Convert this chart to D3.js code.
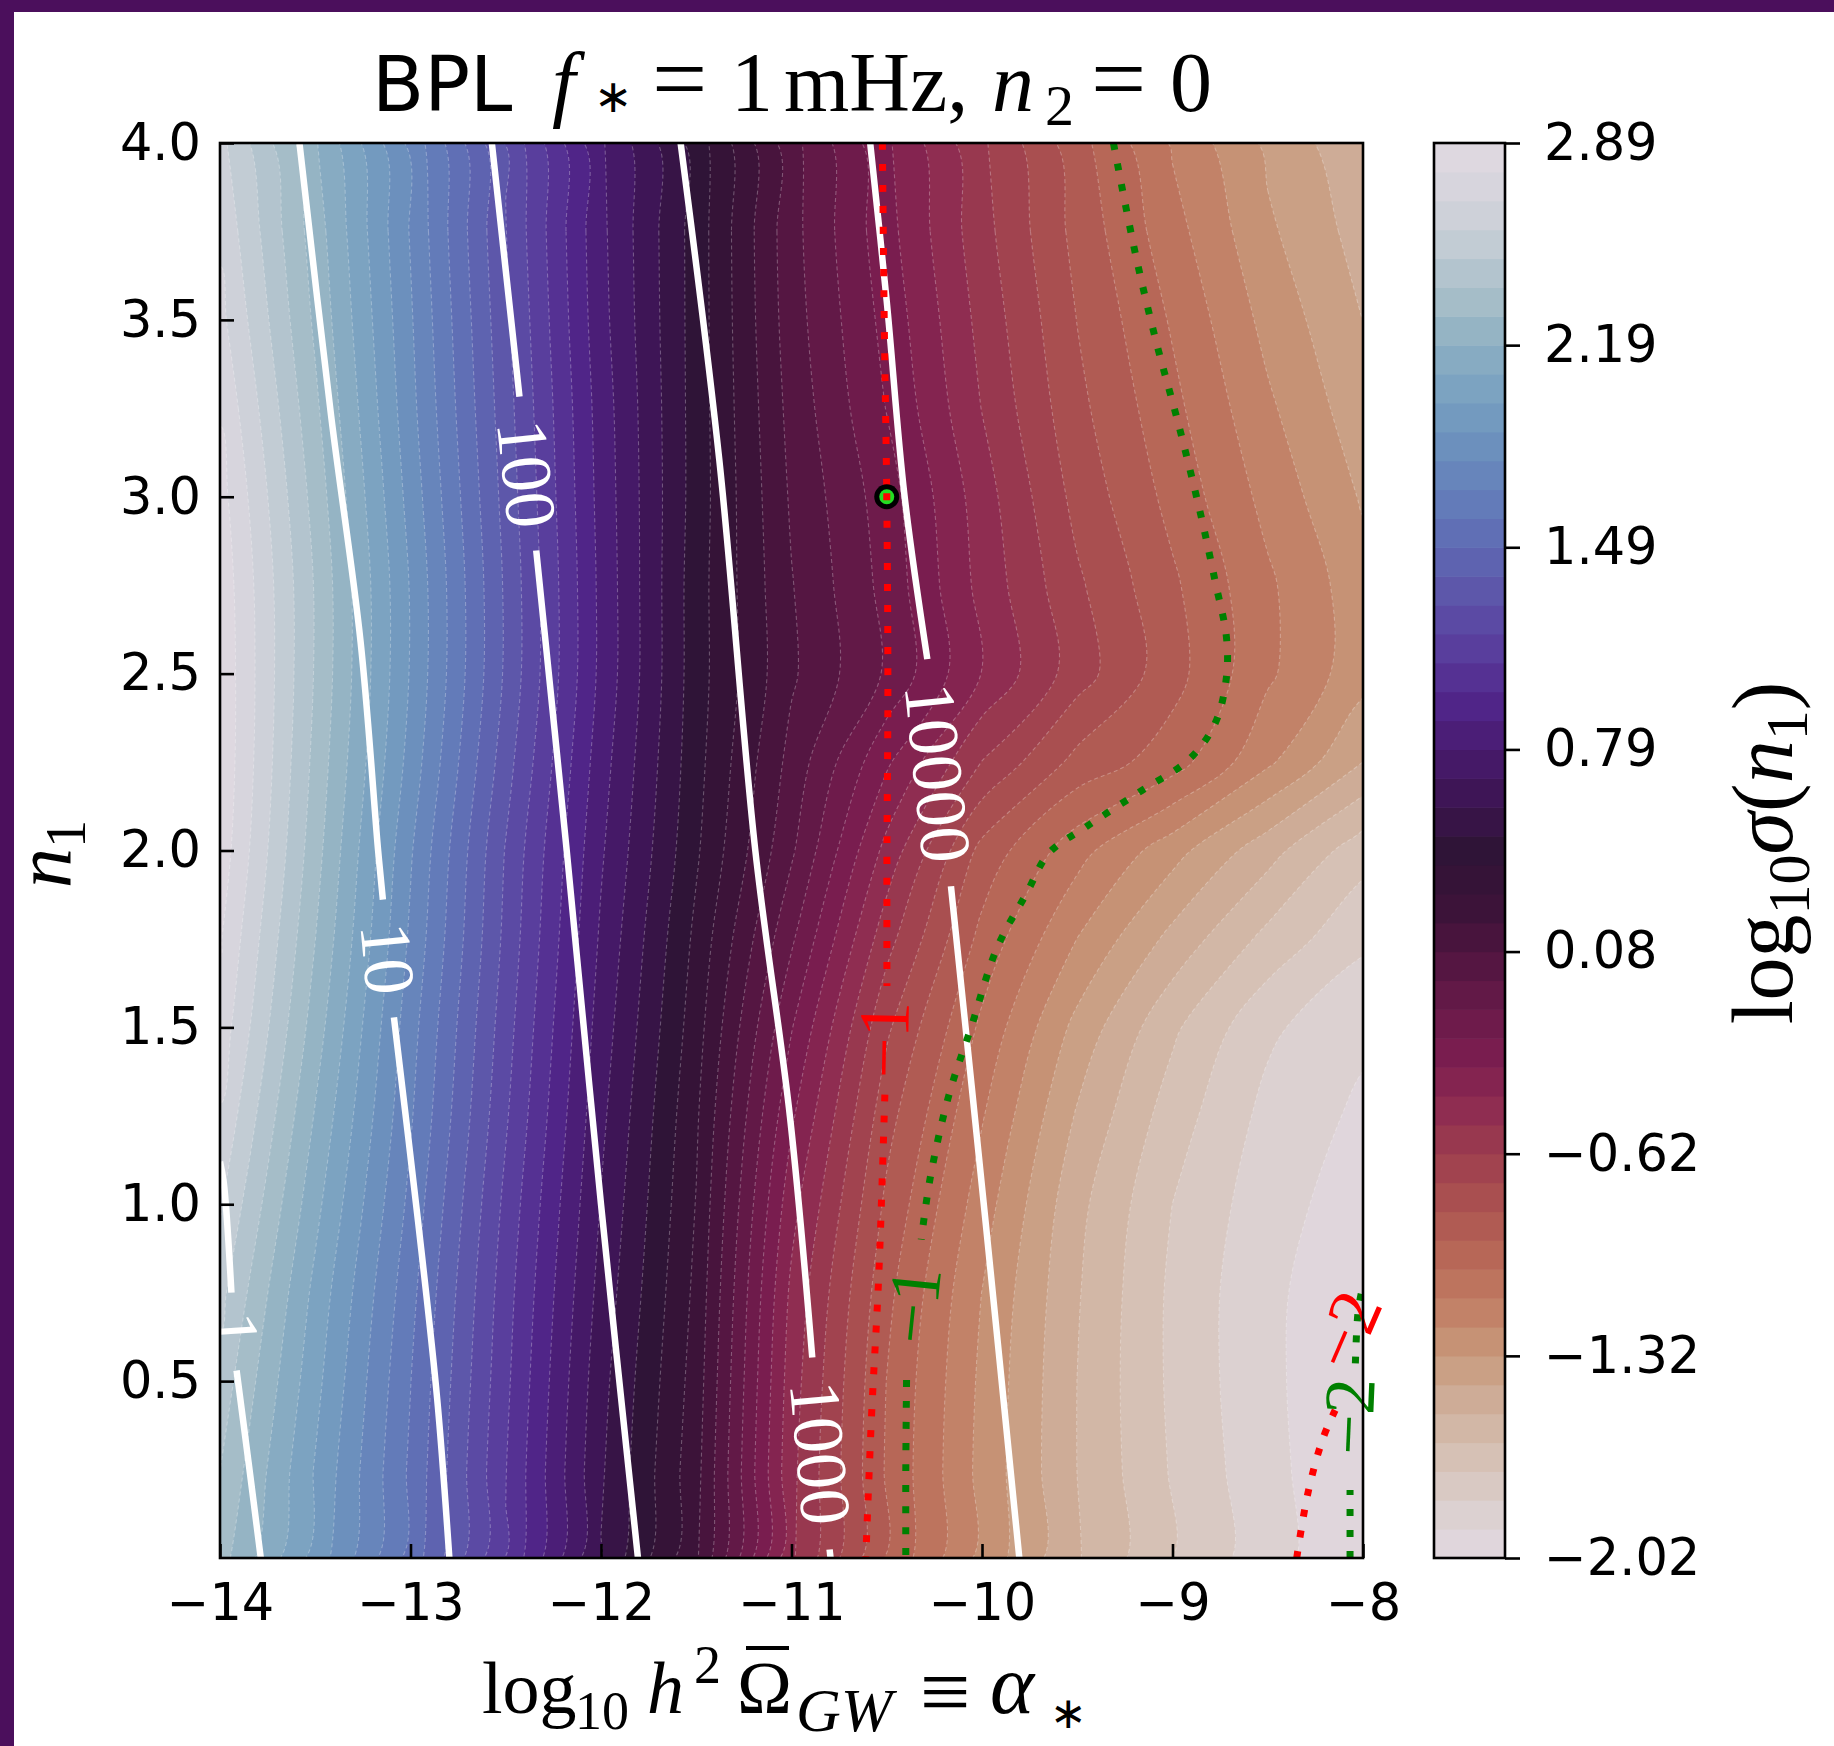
<!DOCTYPE html>
<html><head><meta charset="utf-8">
<script src="https://cdn.jsdelivr.net/npm/d3@7"></script>
<style>body{margin:0;background:#fff} svg{display:block}</style>
</head><body>
<svg id="chart" width="1834" height="1746"></svg>
<script>
// ---------------- data ----------------
const alphaGrid = [-14, -13.5, -13, -12.5, -12, -11.5, -11, -10.5, -10, -9.5, -9, -8.5, -8];
const n1Grid = [0, 0.25, 0.5, 0.75, 1.0, 1.25, 1.5, 1.75, 2.0, 2.25, 2.5, 2.75, 3.0, 3.25, 3.5, 3.75, 4.0];
// log10 sigma(n1), rows follow n1Grid, columns follow alphaGrid
const logSigmaN1 = [
  [2.33, 1.95, 1.55, 1.08, 0.58, 0.20, -0.50, -0.93, -1.25, -1.51, -1.72, -1.88, -2.01],
  [2.39, 1.98, 1.57, 1.09, 0.60, 0.22, -0.49, -0.93, -1.25, -1.52, -1.73, -1.89, -2.01],
  [2.45, 2.02, 1.59, 1.11, 0.62, 0.24, -0.47, -0.92, -1.24, -1.52, -1.74, -1.90, -2.00],
  [2.52, 2.06, 1.62, 1.13, 0.65, 0.26, -0.44, -0.89, -1.22, -1.51, -1.74, -1.90, -1.99],
  [2.60, 2.12, 1.66, 1.16, 0.68, 0.28, -0.38, -0.84, -1.17, -1.49, -1.72, -1.88, -1.97],
  [2.68, 2.18, 1.70, 1.20, 0.71, 0.30, -0.30, -0.78, -1.11, -1.43, -1.67, -1.85, -1.94],
  [2.75, 2.24, 1.73, 1.23, 0.74, 0.33, -0.21, -0.70, -1.04, -1.35, -1.60, -1.80, -1.90],
  [2.80, 2.29, 1.77, 1.26, 0.77, 0.36, -0.10, -0.58, -0.95, -1.22, -1.45, -1.65, -1.80],
  [2.85, 2.33, 1.80, 1.28, 0.80, 0.40, 0.00, -0.45, -0.85, -1.08, -1.28, -1.48, -1.68],
  [2.87, 2.36, 1.85, 1.33, 0.83, 0.42, 0.05, -0.30, -0.62, -0.85, -0.97, -1.20, -1.42],
  [2.87, 2.38, 1.88, 1.37, 0.86, 0.43, 0.10, -0.13, -0.42, -0.67, -0.88, -1.10, -1.28],
  [2.86, 2.38, 1.88, 1.37, 0.86, 0.43, 0.09, -0.15, -0.45, -0.70, -0.90, -1.10, -1.28],
  [2.83, 2.35, 1.85, 1.35, 0.85, 0.44, 0.07, -0.17, -0.47, -0.75, -0.95, -1.15, -1.33],
  [2.78, 2.31, 1.82, 1.33, 0.84, 0.44, 0.05, -0.22, -0.52, -0.79, -0.99, -1.20, -1.38],
  [2.72, 2.27, 1.80, 1.31, 0.82, 0.44, 0.03, -0.25, -0.55, -0.82, -1.03, -1.25, -1.42],
  [2.67, 2.24, 1.78, 1.29, 0.81, 0.44, 0.02, -0.28, -0.58, -0.85, -1.08, -1.30, -1.46],
  [2.62, 2.20, 1.76, 1.28, 0.80, 0.44, 0.02, -0.30, -0.60, -0.88, -1.13, -1.34, -1.50]
];
const vMin = -2.02, vMax = 2.89;
const nLevels = 50;
const cbTickLabels = ["\u22122.02", "\u22121.32", "\u22120.62", "0.08", "0.79", "1.49", "2.19", "2.89"];
const xTicks = [-14, -13, -12, -11, -10, -9, -8];
const yTicks = [0.5, 1.0, 1.5, 2.0, 2.5, 3.0, 3.5, 4.0];

// SNR contours (white): segments of [alpha, n1] and label position
const snrContours = [
  {text: "1", segments: [[[-14.0, 1.12], [-13.98, 1.06], [-13.94, 0.75]], [[-13.913, 0.53], [-13.85, 0.27], [-13.786, 0.0]]], label: [-13.925, 0.645]},
  {text: "10", segments: [[[-13.583, 4.0], [-13.417, 3.23], [-13.262, 2.59], [-13.17, 2.0], [-13.145, 1.861]], [[-13.087, 1.528], [-12.96, 0.95], [-12.86, 0.45], [-12.796, 0.0]]], label: [-13.115, 1.695]},
  {text: "100", segments: [[[-12.573, 4.0], [-12.50, 3.64], [-12.428, 3.283]], [[-12.34, 2.848], [-12.18, 2.0], [-12.0, 1.0], [-11.806, 0.0]]], label: [-12.385, 3.065]},
  {text: "1000", segments: [[[-11.582, 4.0], [-11.379, 3.104], [-11.19, 2.0], [-11.008, 1.247], [-10.891, 0.567]], [[-10.80, 0.024], [-10.795, 0.0]]], label: [-10.843, 0.297]},
  {text: "10000", segments: [[[-10.587, 4.0], [-10.50, 3.552], [-10.407, 3.004], [-10.287, 2.541]], [[-10.163, 1.899], [-9.979, 0.939], [-9.804, 0.0]]], label: [-10.227, 2.22]}
];
// log10 sigma(alpha) contours (red dotted)
const sigmaAlphaContours = [
  {text: "\u22121", segments: [[[-10.523, 4.0], [-10.513, 3.488], [-10.50, 3.0], [-10.494, 2.464], [-10.499, 1.993], [-10.499, 1.617]], [[-10.51, 1.31], [-10.542, 0.798], [-10.58, 0.40], [-10.61, 0.0]]], label: [-10.52, 1.465]},
  {text: "\u22122", segments: [[[-8.348, 0.0], [-8.289, 0.184], [-8.211, 0.337], [-8.146, 0.418]]], label: [-8.094, 0.645]}
];
// log10 sigma(n1) contours (green dotted)
const sigmaN1Contours = [
  {text: "\u22121", segments: [[[-9.31, 4.0], [-9.192, 3.68], [-9.085, 3.437], [-8.969, 3.206], [-8.852, 2.95], [-8.775, 2.758], [-8.717, 2.604], [-8.717, 2.489], [-8.775, 2.361], [-8.91, 2.259], [-9.163, 2.169], [-9.454, 2.067], [-9.648, 1.993], [-9.765, 1.88], [-9.92, 1.726], [-10.056, 1.502], [-10.173, 1.31], [-10.27, 1.08], [-10.319, 0.90]], [[-10.396, 0.503], [-10.40, 0.25], [-10.40, 0.0]]], label: [-10.367, 0.715]},
  {text: "\u22122", segments: [[[-8.068, 0.0], [-8.068, 0.192]], [[-8.04, 0.55], [-8.025, 0.70], [-8.0, 0.77]]], label: [-8.079, 0.40]}
];
const benchmark = [-10.5, 3.0];

// twilight colormap table (position, colour)
const twilightPos = [0, 0.0285, 0.059, 0.0896, 0.120, 0.1426, 0.181, 0.222, 0.263, 0.285, 0.324, 0.3646, 0.395, 0.4277, 0.466, 0.501, 0.538, 0.572, 0.609, 0.650, 0.680, 0.715, 0.752, 0.792, 0.823, 0.857, 0.894, 0.935, 0.976, 1.0];
const twilightHex = ["#e2d9e2", "#d8d5dd", "#cbd0d8", "#b5c5cf", "#9fbac6", "#8dafc3", "#78a0c0", "#698cbc", "#6277b8", "#5f69b3", "#5c52a8", "#58399a", "#51268a", "#491b70", "#3c1450", "#2f1436", "#3a1338", "#4f1540", "#661a49", "#7d1e50", "#8d2b51", "#9d3e4e", "#ac5350", "#b96b58", "#c17f66", "#c89a7c", "#cfb09c", "#d7c4ba", "#ddd3d5", "#e2d9e2"];

// ---------------- layout ----------------
const P = {l: 220, r: 1363, t: 143, b: 1558};
const CB = {l: 1434, r: 1505};
const SANS = "'DejaVu Sans', sans-serif";
const SERIF = "'Liberation Serif', 'DejaVu Serif', serif";

const svg = d3.select("#chart");
svg.append("rect").attr("width", 1834).attr("height", 1746).attr("fill", "#fff");
svg.append("rect").attr("x", 0).attr("y", 0).attr("width", 1834).attr("height", 12).attr("fill", "#4b0f5c");
svg.append("rect").attr("x", 0).attr("y", 0).attr("width", 14).attr("height", 1746).attr("fill", "#4b0f5c");

const x = d3.scaleLinear().domain([-14, -8]).range([P.l, P.r]);
const y = d3.scaleLinear().domain([0, 4]).range([P.b, P.t]);
const cbY = d3.scaleLinear().domain([vMin, vMax]).range([P.b, P.t]);

const twilight = d3.scaleLinear().domain(twilightPos).range(twilightHex).interpolate(d3.interpolateRgb);
const twilightR = t => twilight(1 - t);
const levels = d3.range(nLevels).map(i => vMin + i * (vMax - vMin) / (nLevels - 1));
const bandColor = i => twilightR(((levels[i] + levels[i + 1]) / 2 - vMin) / (vMax - vMin));

svg.append("defs").append("clipPath").attr("id", "plotClip")
  .append("rect").attr("x", P.l).attr("y", P.t).attr("width", P.r - P.l).attr("height", P.b - P.t);
const plot = svg.append("g").attr("clip-path", "url(#plotClip)");

// ---- filled contours ----
const nx = alphaGrid.length, ny = n1Grid.length;
const values = [];
for (let j = 0; j < ny; j++) for (let i = 0; i < nx; i++) values.push(logSigmaN1[j][i]);
const dA = alphaGrid[1] - alphaGrid[0], dN = n1Grid[1] - n1Grid[0];
const gx2a = gx => alphaGrid[0] + (gx - 0.5) * dA;
const gy2n = gy => n1Grid[0] + (gy - 0.5) * dN;
const ringLine = d3.line().curve(d3.curveCatmullRomClosed.alpha(0.5));
function smoothPath(geom) {
  let s = "";
  geom.coordinates.forEach(poly => poly.forEach(ring => {
    const pts = ring.slice(0, ring.length - 1).map(p => [x(gx2a(p[0])), y(gy2n(p[1]))]);
    if (pts.length > 2) s += ringLine(pts);
  }));
  return s;
}
const bands = d3.contours().size([nx, ny]).thresholds(levels.slice(0, nLevels - 1))(values);

plot.append("rect").attr("x", P.l).attr("y", P.t).attr("width", P.r - P.l).attr("height", P.b - P.t).attr("fill", bandColor(0));
plot.selectAll("path.band").data(bands).enter().append("path")
  .attr("class", "band").attr("d", smoothPath).attr("fill-rule", "evenodd")
  .attr("fill", (d, i) => bandColor(i)).attr("stroke", "none");
plot.selectAll("path.edge").data(bands.slice(1)).enter().append("path")
  .attr("class", "edge").attr("d", smoothPath)
  .attr("fill", "none").attr("stroke", "rgba(255,255,255,0.28)").attr("stroke-width", 1.1)
  .attr("stroke-dasharray", "4 3");

// ---- line contours ----
const line = d3.line().x(d => x(d[0])).y(d => y(d[1])).curve(d3.curveCatmullRom.alpha(0.5));
function drawSet(set, color, width, dash) {
  set.forEach(c => c.segments.forEach(seg => {
    plot.append("path").attr("d", line(seg)).attr("fill", "none")
      .attr("stroke", color).attr("stroke-width", width)
      .attr("stroke-dasharray", dash || null).attr("stroke-linecap", "butt");
  }));
}
function labelSet(set, color) {
  set.forEach(c => {
    let p0, p1;
    if (c.segments.length > 1) {
      const a = c.segments[0], b = c.segments[1];
      p0 = a[a.length - 1]; p1 = b[0];
    } else {
      const a = c.segments[0];
      p0 = a[a.length - 2]; p1 = a[a.length - 1];
    }
    let ang = Math.atan2(y(p1[1]) - y(p0[1]), x(p1[0]) - x(p0[0])) * 180 / Math.PI;
    if (ang > 90) ang -= 180;
    if (ang <= -90) ang += 180;
    svg.append("text")
      .attr("transform", `translate(${x(c.label[0])},${y(c.label[1])}) rotate(${ang})`)
      .attr("text-anchor", "middle").attr("dy", "0.35em")
      .attr("font-family", SERIF).attr("font-size", 72).attr("fill", color)
      .text(c.text);
  });
}
drawSet(snrContours, "#ffffff", 6.5);
drawSet(sigmaAlphaContours, "#ff0000", 7, "7 14");
drawSet(sigmaN1Contours, "#008000", 7, "7 14");
labelSet(snrContours, "#ffffff");
labelSet(sigmaAlphaContours, "#ff0000");
labelSet(sigmaN1Contours, "#008000");

// benchmark marker
const mk = svg.append("g").attr("transform", `translate(${x(benchmark[0])},${y(benchmark[1])})`);
mk.append("circle").attr("r", 12.5).attr("fill", "#000");
mk.append("circle").attr("r", 7.5).attr("fill", "#22dd22");
mk.append("rect").attr("x", -3.5).attr("y", -3.5).attr("width", 7).attr("height", 7).attr("fill", "#ff0000");

// spines
svg.append("rect").attr("x", P.l).attr("y", P.t).attr("width", P.r - P.l).attr("height", P.b - P.t)
  .attr("fill", "none").attr("stroke", "#000").attr("stroke-width", 2.6);

// axes
function styleAxis(g) {
  g.select(".domain").remove();
  g.selectAll(".tick line").attr("stroke", "#000").attr("stroke-width", 2.6);
  g.selectAll(".tick text").attr("font-family", SANS).attr("font-size", 51).attr("fill", "#000");
}
svg.append("g").attr("transform", `translate(0,${P.b})`)
  .call(d3.axisBottom(x).tickValues(xTicks).tickFormat(d3.format("d")).tickSizeInner(-14).tickSizeOuter(0).tickPadding(26))
  .call(styleAxis);
svg.append("g").attr("transform", `translate(${P.l},0)`)
  .call(d3.axisLeft(y).tickValues(yTicks).tickFormat(d3.format(".1f")).tickSizeInner(-14).tickSizeOuter(0).tickPadding(19))
  .call(styleAxis);

// ---- colorbar ----
const cb = svg.append("g");
d3.range(nLevels - 1).forEach(i => {
  cb.append("rect").attr("x", CB.l).attr("width", CB.r - CB.l)
    .attr("y", cbY(levels[i + 1])).attr("height", cbY(levels[i]) - cbY(levels[i + 1]) + 0.6)
    .attr("fill", bandColor(i));
});
cb.append("rect").attr("x", CB.l).attr("y", P.t).attr("width", CB.r - CB.l).attr("height", P.b - P.t)
  .attr("fill", "none").attr("stroke", "#000").attr("stroke-width", 2.6);
const cbTicks = d3.range(8).map(i => vMin + i * (vMax - vMin) / 7);
svg.append("g").attr("transform", `translate(${CB.r},0)`)
  .call(d3.axisRight(cbY).tickValues(cbTicks).tickFormat((d, i) => cbTickLabels[i]).tickSizeInner(15).tickSizeOuter(0).tickPadding(24))
  .call(styleAxis);

// ---- texts ----
function addPieces(textSel, pieces) {
  pieces.forEach(p => {
    const t = textSel.append("tspan").text(p.t);
    if (p.x !== undefined) t.attr("x", p.x);
    if (p.y !== undefined) t.attr("y", p.y);
    if (p.dy !== undefined) t.attr("dy", p.dy);
    t.attr("font-family", p.f || SERIF).attr("font-size", p.s).attr("font-style", p.i ? "italic" : "normal");
  });
}
// title
const title = svg.append("text").attr("fill", "#000");
addPieces(title, [
  {t: "BPL", x: 372, y: 111, f: SANS, s: 76},
  {t: "f", x: 552, y: 111, s: 84, i: true},
  {t: "\u2217", x: 594, y: 112, s: 46, f: SANS},
  {t: "=", x: 652, y: 111, s: 98},
  {t: "1", x: 731, y: 111, s: 84},
  {t: "mHz,", x: 784, y: 111, s: 84},
  {t: "n", x: 992, y: 111, s: 84, i: true},
  {t: "2", x: 1045, y: 125, s: 58},
  {t: "=", x: 1091, y: 111, s: 98},
  {t: "0", x: 1170, y: 111, s: 84}
]);
// x label
const xl = svg.append("text").attr("fill", "#000");
addPieces(xl, [
  {t: "log", x: 482, y: 1713, s: 74},
  {t: "10", x: 575, y: 1729, s: 54},
  {t: "h", x: 647, y: 1713, s: 74, i: true},
  {t: "2", x: 694, y: 1683, s: 54},
  {t: "\u03a9", x: 737, y: 1713, s: 74},
  {t: "GW", x: 796, y: 1731, s: 62, i: true},
  {t: "\u2261", x: 920, y: 1722, s: 90},
  {t: "\u03b1", x: 990, y: 1713, s: 84, i: true},
  {t: "\u2217", x: 1050, y: 1728, s: 44, f: SANS}
]);
svg.append("line").attr("x1", 746).attr("x2", 789).attr("y1", 1648).attr("y2", 1648).attr("stroke", "#000").attr("stroke-width", 4);
// y label
const yl = svg.append("text").attr("transform", "translate(70,854) rotate(-90)").attr("text-anchor", "middle").attr("fill", "#000");
addPieces(yl, [
  {t: "n", s: 80, i: true},
  {t: "1", s: 56, dy: 15}
]);
// colorbar label
const cl = svg.append("text").attr("transform", "translate(1792,853) rotate(-90)").attr("text-anchor", "middle").attr("fill", "#000");
addPieces(cl, [
  {t: "log", s: 86},
  {t: "10", s: 60, dy: 17},
  {t: "\u03c3", s: 86, dy: -17, i: true},
  {t: "(", s: 86},
  {t: "n", s: 86, i: true},
  {t: "1", s: 60, dy: 15},
  {t: ")", s: 86, dy: -15}
]);
</script>
</body></html>
